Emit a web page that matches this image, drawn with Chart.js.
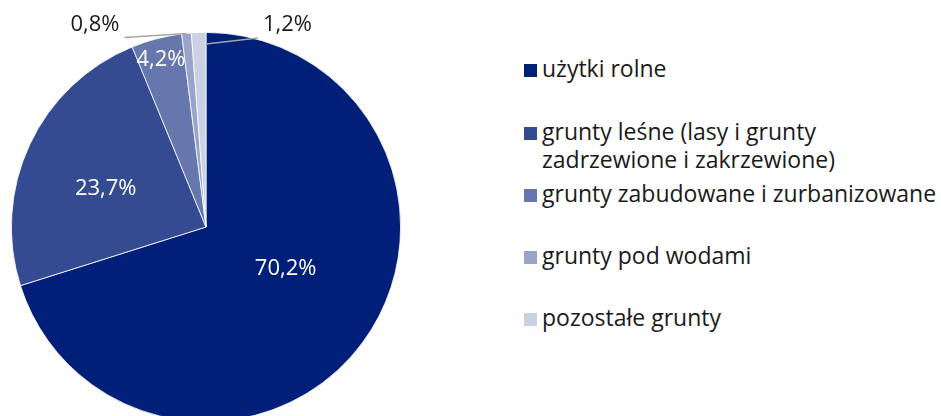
<!DOCTYPE html>
<html><head><meta charset="utf-8">
<script src="https://cdn.jsdelivr.net/npm/chart.js@4"></script>
<style>
html,body{margin:0;padding:0;width:941px;height:416px;overflow:hidden;background:#fff;font-family:"Open Sans",sans-serif;}
#wrap{position:absolute;left:0;top:0;width:440px;height:440px;}
#legend{position:absolute;left:0;top:0;}
.li{position:absolute;left:524px;font-size:23px;color:#1a1a1a;line-height:28px;white-space:nowrap;}
.li .bx{position:absolute;left:0;width:13px;height:13px;}
.li .tx{position:absolute;left:18px;top:7px;}
</style></head><body>
<div id="wrap"><canvas id="c" width="440" height="440"></canvas></div>
<div id="legend"></div>
<script>
const categories = ["użytki rolne","grunty leśne (lasy i grunty\nzadrzewione i zakrzewione)","grunty zabudowane i zurbanizowane","grunty pod wodami","pozostałe grunty"];
const values = [70.2, 23.7, 4.2, 0.8, 1.2];
const valueLabels = ["70,2%","23,7%","4,2%","0,8%","1,2%"];
const colors = ["#001f78","#354b91","#6677ad","#98a4ca","#cbd1e5"];

// label placement: angle fraction within slice, radius fraction, inside/outside
const labelCfg = [
  {af:0.467, rf:0.463, inside:true},
  {af:0.452, rf:0.552, inside:true},
  {af:0.48,  rf:0.89,  inside:true},
  {af:0.5,   rf:1.0,   inside:false, lx:-62, ly:4,  align:'right', tx:-5, ty:-13},
  {af:1.0,   rf:0.94,  inside:false, lx:52,  ly:-6, align:'left',  tx:5,  ty:-13}
];

const labelPlugin = {
  id:'sliceLabels',
  afterDatasetsDraw(chart){
    const ctx = chart.ctx;
    const meta = chart.getDatasetMeta(0);
    ctx.save();
    ctx.font = '22px "Open Sans", sans-serif';
    meta.data.forEach((arc,i)=>{
      const p = arc.getProps(['x','y','startAngle','endAngle','outerRadius'], true);
      const cfg = labelCfg[i];
      const a = p.startAngle + (p.endAngle - p.startAngle)*cfg.af;
      const r = p.outerRadius*cfg.rf;
      const x = p.x + Math.cos(a)*r, y = p.y + Math.sin(a)*r;
      if(cfg.inside){
        ctx.fillStyle = '#ffffff';
        ctx.textAlign='center'; ctx.textBaseline='middle';
        ctx.fillText(valueLabels[i], x, y);
      } else {
        const ex = x + cfg.lx, ey = y + cfg.ly;
        ctx.strokeStyle = '#a6a6a6'; ctx.lineWidth = 1.5;
        ctx.beginPath(); ctx.moveTo(x,y); ctx.lineTo(ex,ey); ctx.stroke();
        ctx.fillStyle = '#1a1a1a';
        ctx.textAlign = cfg.align; ctx.textBaseline='middle';
        ctx.fillText(valueLabels[i], ex + cfg.tx, ey + cfg.ty);
      }
    });
    ctx.restore();
  }
};

new Chart(document.getElementById('c'), {
  type:'pie',
  data:{labels:categories, datasets:[{data:values, backgroundColor:colors, borderColor:'#ffffff', borderWidth:0.8}]},
  options:{
    responsive:false, animation:false,
    layout:{padding:{left:11, top:32, right:39, bottom:18}},
    plugins:{legend:{display:false}, tooltip:{enabled:false}}
  },
  plugins:[labelPlugin]
});

// legend (HTML), built from categories and colors
const legendTops = [63.5, 126.5, 188.5, 250.5, 312.5];
const lg = document.getElementById('legend');
categories.forEach((c,i)=>{
  const d = document.createElement('div');
  d.className='li';
  d.style.top = (legendTops[i]-17)+'px';
  const lines = c.split('\n');
  d.innerHTML = '<span class="bx" style="top:17px;background:'+colors[i]+'"></span>' +
    '<span class="tx">'+lines.join('<br>')+'</span>';
  lg.appendChild(d);
});
</script>
</body></html>
